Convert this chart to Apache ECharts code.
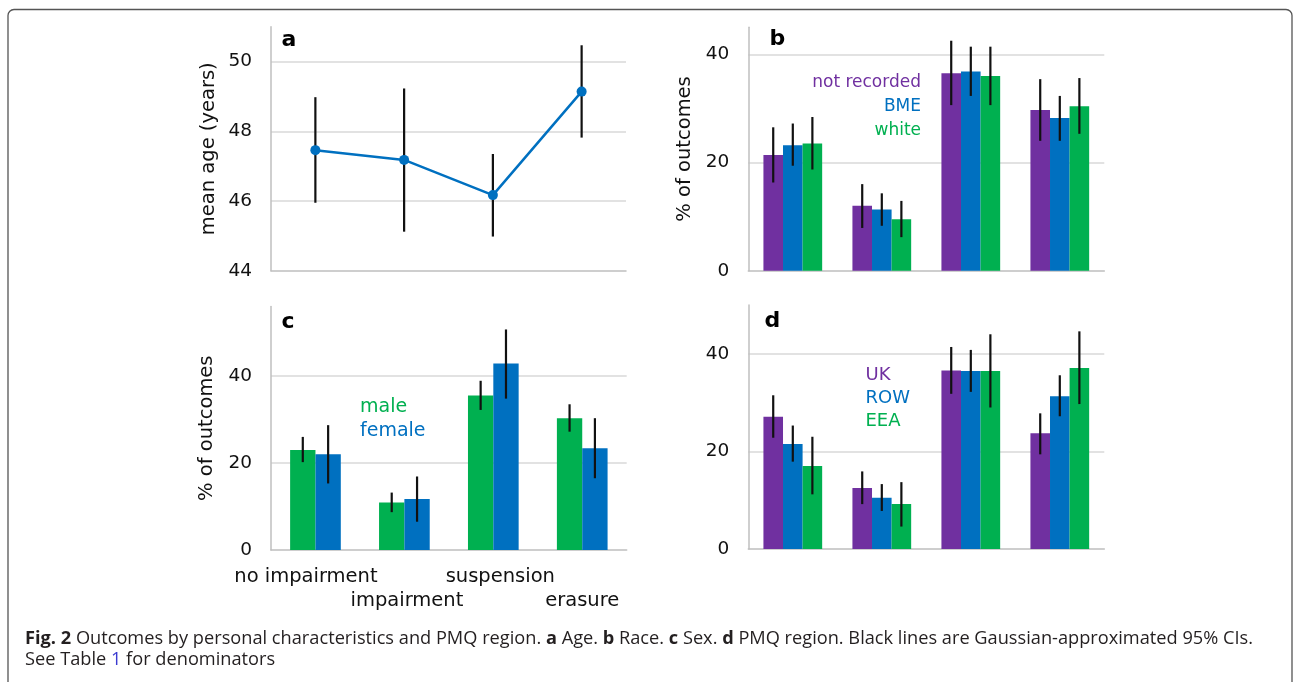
<!DOCTYPE html>
<html><head><meta charset="utf-8">
<script src="https://cdn.jsdelivr.net/npm/echarts@6/dist/echarts.min.js"></script>
<style>html,body{margin:0;padding:0;background:#fff;}#c{width:1294px;height:682px;}</style>
</head><body><div id="c"></div>
<script>
// ---------- data ----------
const categories = ['no impairment', 'impairment', 'suspension', 'erasure'];

// a: age
const ageMean = [47.46, 47.18, 46.17, 49.14];
const ageLow  = [45.95, 45.12, 44.98, 47.82];
const ageHigh = [48.98, 49.23, 47.35, 50.47];
const ageTicks = [44, 46, 48, 50];

// b: race
const raceNames = ['not recorded', 'BME', 'white'];
const raceNotRecorded = [21.4, 12.0, 36.5, 29.7];
const raceNotRecordedLow = [16.3, 7.9, 30.6, 24.0];
const raceNotRecordedHigh = [26.5, 16.0, 42.5, 35.4];
const raceBME = [23.2, 11.3, 36.8, 28.2];
const raceBMELow = [19.4, 8.3, 32.3, 24.0];
const raceBMEHigh = [27.2, 14.3, 41.4, 32.3];
const raceWhite = [23.5, 9.5, 36.0, 30.4];
const raceWhiteLow = [18.7, 6.2, 30.6, 25.3];
const raceWhiteHigh = [28.4, 12.9, 41.4, 35.6];

// c: sex
const sexNames = ['male', 'female'];
const sexMale = [23.0, 10.9, 35.5, 30.3];
const sexMaleLow = [20.2, 8.7, 32.2, 27.2];
const sexMaleHigh = [26.0, 13.2, 38.9, 33.5];
const sexFemale = [22.0, 11.7, 42.9, 23.4];
const sexFemaleLow = [15.3, 6.5, 34.8, 16.5];
const sexFemaleHigh = [28.7, 16.9, 50.7, 30.3];

// d: PMQ region
const regionNames = ['UK', 'ROW', 'EEA'];
const regionUK = [27.1, 12.5, 36.6, 23.7];
const regionUKLow = [22.8, 9.2, 31.8, 19.4];
const regionUKHigh = [31.5, 15.9, 41.4, 27.8];
const regionROW = [21.5, 10.5, 36.5, 31.3];
const regionROWLow = [17.9, 7.8, 32.2, 27.2];
const regionROWHigh = [25.3, 13.3, 40.8, 35.6];
const regionEEA = [17.0, 9.2, 36.5, 37.1];
const regionEEALow = [11.2, 4.6, 29.0, 29.7];
const regionEEAHigh = [23.0, 13.7, 44.0, 44.6];

const pctTicks = [0, 20, 40];

// ---------- styling ----------
const PURPLE = '#7030A0', BLUE = '#0070C0', GREEN = '#00B050';
const FONT = '"DejaVu Sans", Verdana, sans-serif';
const GRIDC = '#d9d9d9', AXISC = '#bfbfbf';

function errRender(n, i, gapFrac) {
  return function (params, api) {
    const cat = api.value(0);
    const lo = api.coord([cat, api.value(1)]);
    const hi = api.coord([cat, api.value(2)]);
    let x = lo[0];
    if (n > 0) {
      const band = api.size([1, 0])[0];
      const gw = band * (1 - gapFrac);
      const bw = gw / n;
      x = lo[0] - gw / 2 + bw * (i + 0.5);
    }
    return { type: 'line', shape: { x1: x, y1: lo[1], x2: x, y2: hi[1] },
             style: { stroke: '#111', lineWidth: 2.2 } };
  };
}
function errSeries(idx, low, high, n, i, gapFrac) {
  return {
    type: 'custom', xAxisIndex: idx, yAxisIndex: idx, z: 5, silent: true,
    renderItem: errRender(n, i, gapFrac),
    encode: { x: 0, y: [1, 2] },
    data: low.map((v, k) => [k, v, high[k]])
  };
}
function barSeries(idx, name, data, color, gap) {
  return { type: 'bar', name: name, xAxisIndex: idx, yAxisIndex: idx, data: data,
           itemStyle: { color: color }, barGap: '0%', barCategoryGap: gap, z: 2, silent: true };
}
const labStyle = { fontFamily: FONT, fontSize: 19.5, color: '#111', lineHeight: 23.7 };
const xRich = {
  p0: Object.assign({ padding: [0, 19, 0, 0] }, labStyle),
  p1: Object.assign({ padding: [0, 0, 0, 5] }, labStyle),
  p2: Object.assign({ padding: [0, 0, 0, 14] }, labStyle),
  p3: Object.assign({ padding: [0, 0, 0, 0] }, labStyle)
};
function xAx(idx, showLabels) {
  return {
    type: 'category', gridIndex: idx, data: categories,
    axisTick: { show: false },
    axisLine: { show: true, lineStyle: { color: AXISC, width: 1.5 } },
    axisLabel: showLabels ? Object.assign({
      show: true, interval: 0, margin: 15, rich: xRich,
      formatter: function (v, i) { return (i % 2 === 1 ? '\n' : '') + '{p' + i + '|' + v + '}'; }
    }, labStyle) : { show: false },
    splitLine: { show: false }
  };
}
function yAx(idx, min, max, interval, ticks, name, nameGap) {
  return {
    type: 'value', gridIndex: idx, min: min, max: max, interval: interval,
    axisLine: { show: true, lineStyle: { color: AXISC, width: 1.5 } },
    axisTick: { show: false },
    splitLine: { show: true, showMaxLine: false, showMinLine: false, lineStyle: { color: GRIDC, width: 1.5 } },
    axisLabel: { fontFamily: FONT, fontSize: 18.5, color: '#111', margin: 19, showMaxLabel: false,
      formatter: function (v) { return ticks.indexOf(v) >= 0 ? String(v) : ''; } },
    name: name, nameLocation: 'middle', nameGap: nameGap,
    nameTextStyle: { fontFamily: FONT, fontSize: 19.5, color: '#111' }
  };
}

// ---------- caption (measured to fit width) ----------
const capLine1 = [['Fig. 2', 'b'], [' Outcomes by personal characteristics and PMQ region. ', 'n'], ['a', 'b'], [' Age. ', 'n'],
  ['b', 'b'], [' Race. ', 'n'], ['c', 'b'], [' Sex. ', 'n'], ['d', 'b'],
  [' PMQ region. Black lines are Gaussian-approximated 95% CIs.', 'n']];
const capLine2 = [['See Table ', 'n'], ['1', 'l'], [' for denominators', 'n']];
const CAPFONT = '"Open Sans", "Noto Sans", sans-serif';
const CAPSIZE = 18;
const ctx = document.createElement('canvas').getContext('2d');
function measure(segs) {
  let t = 0;
  segs.forEach(s => { ctx.font = (s[1] === 'b' ? 'bold ' : '') + CAPSIZE + 'px ' + CAPFONT; t += ctx.measureText(s[0]).width; });
  return t;
}
const capScale = 1228 / measure(capLine1);
function rich(segs) { return segs.map(s => '{' + s[1] + '|' + s[0] + '}').join(''); }
const capRich = {
  b: { fontFamily: CAPFONT, fontSize: CAPSIZE, fontWeight: 'bold', fill: '#231f20' },
  n: { fontFamily: CAPFONT, fontSize: CAPSIZE, fill: '#231f20' },
  l: { fontFamily: CAPFONT, fontSize: CAPSIZE, fill: '#3a3ad0' }
};

function label(x, y, text, color, size, align, bold) {
  return { type: 'text', x: x, y: y, silent: true,
    style: { text: text, fill: color, font: (bold ? 'bold ' : '') + size + 'px ' + FONT,
             textAlign: align, textVerticalAlign: 'middle' } };
}

const option = {
  animation: false,
  backgroundColor: '#fff',
  grid: [
    { left: 271, top: 26.8, width: 355, height: 243.9 },
    { left: 748.3, top: 27.2, width: 356, height: 243.5 },
    { left: 271, top: 306.4, width: 355.7, height: 243.6 },
    { left: 748.3, top: 305, width: 356, height: 244 }
  ],
  xAxis: [xAx(0, false), xAx(1, false), xAx(2, true), xAx(3, false)],
  yAxis: [
    yAx(0, 44, 51, 2, ageTicks, 'mean age (years)', 52),
    yAx(1, 0, 45, 20, pctTicks, '% of outcomes', 53),
    yAx(2, 0, 56, 20, pctTicks, '% of outcomes', 54),
    yAx(3, 0, 50, 20, pctTicks, '', 50)
  ],
  series: [
    errSeries(0, ageLow, ageHigh, 0, 0, 0),
    { type: 'line', xAxisIndex: 0, yAxisIndex: 0, data: ageMean, z: 6, silent: true,
      symbol: 'circle', symbolSize: 10, itemStyle: { color: BLUE },
      lineStyle: { color: BLUE, width: 2.5 } },

    barSeries(1, raceNames[0], raceNotRecorded, PURPLE, '34%'),
    barSeries(1, raceNames[1], raceBME, BLUE, '34%'),
    barSeries(1, raceNames[2], raceWhite, GREEN, '34%'),
    errSeries(1, raceNotRecordedLow, raceNotRecordedHigh, 3, 0, 0.34),
    errSeries(1, raceBMELow, raceBMEHigh, 3, 1, 0.34),
    errSeries(1, raceWhiteLow, raceWhiteHigh, 3, 2, 0.34),

    barSeries(2, sexNames[0], sexMale, GREEN, '43%'),
    barSeries(2, sexNames[1], sexFemale, BLUE, '43%'),
    errSeries(2, sexMaleLow, sexMaleHigh, 2, 0, 0.43),
    errSeries(2, sexFemaleLow, sexFemaleHigh, 2, 1, 0.43),

    barSeries(3, regionNames[0], regionUK, PURPLE, '34%'),
    barSeries(3, regionNames[1], regionROW, BLUE, '34%'),
    barSeries(3, regionNames[2], regionEEA, GREEN, '34%'),
    errSeries(3, regionUKLow, regionUKHigh, 3, 0, 0.34),
    errSeries(3, regionROWLow, regionROWHigh, 3, 1, 0.34),
    errSeries(3, regionEEALow, regionEEAHigh, 3, 2, 0.34)
  ],
  graphic: [
    { type: 'rect', silent: true, shape: { x: 8, y: 9.5, width: 1284, height: 700, r: 6 },
      style: { fill: 'none', stroke: '#555', lineWidth: 1.3 } },
    label(281.5, 40, 'a', '#000', 22, 'left', true),
    label(769.5, 39, 'b', '#000', 22, 'left', true),
    label(281.5, 322, 'c', '#000', 22, 'left', true),
    label(764.5, 321.5, 'd', '#000', 22, 'left', true),

    label(921, 82.5, raceNames[0], PURPLE, 17, 'right', false),
    label(921, 106.7, raceNames[1], BLUE, 17, 'right', false),
    label(921, 130.7, raceNames[2], GREEN, 17, 'right', false),

    label(360, 407.3, sexNames[0], GREEN, 19, 'left', false),
    label(360, 430.6, sexNames[1], BLUE, 19, 'left', false),

    label(865.5, 375.3, regionNames[0], PURPLE, 18, 'left', false),
    label(865.5, 398.6, regionNames[1], BLUE, 18, 'left', false),
    label(865.5, 421.4, regionNames[2], GREEN, 18, 'left', false),

    { type: 'text', x: 25, y: 639, scaleX: capScale, silent: true,
      style: { text: rich(capLine1), rich: capRich, font: CAPSIZE + 'px ' + CAPFONT, textVerticalAlign: 'middle' } },
    { type: 'text', x: 25, y: 660, scaleX: capScale, silent: true,
      style: { text: rich(capLine2), rich: capRich, font: CAPSIZE + 'px ' + CAPFONT, textVerticalAlign: 'middle' } }
  ]
};
const chart = echarts.init(document.getElementById('c'), null, { renderer: 'canvas' });
chart.setOption(option);
</script></body></html>
